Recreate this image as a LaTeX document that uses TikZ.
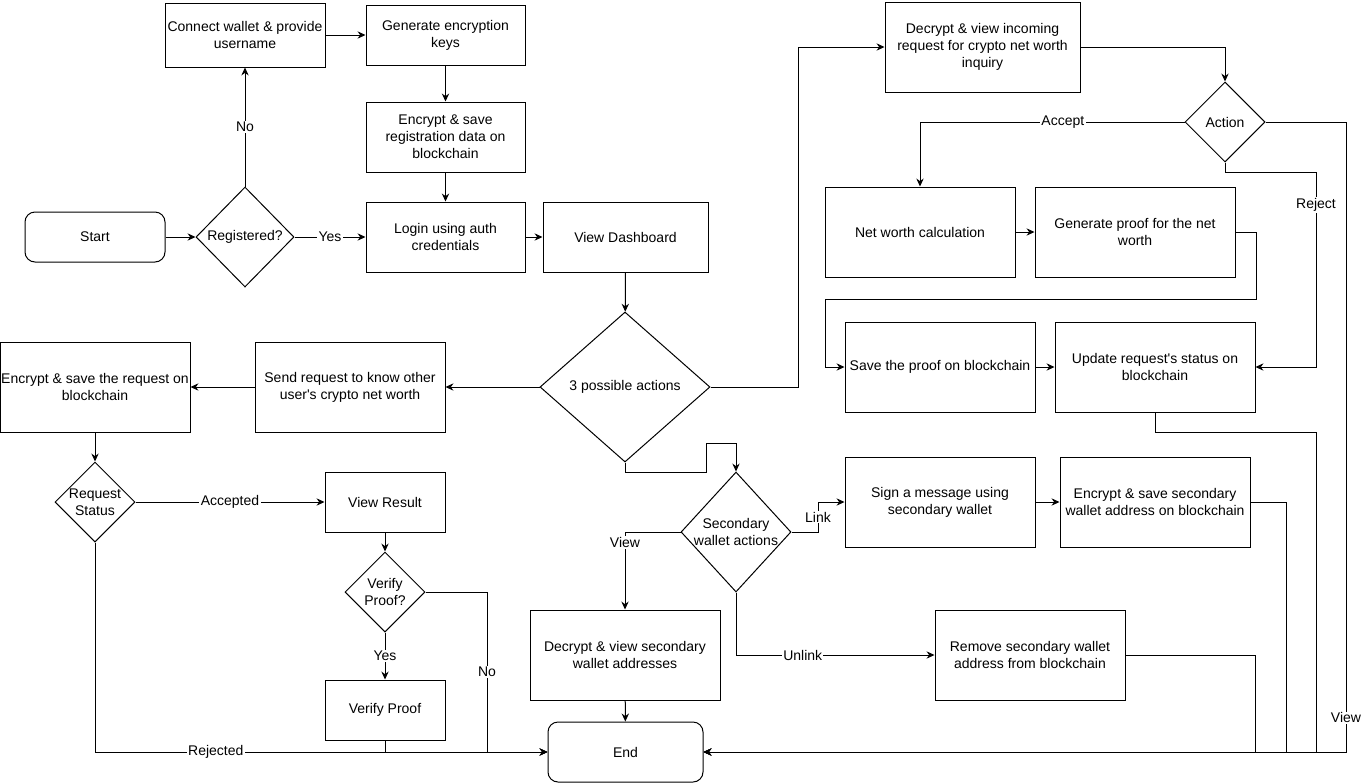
\documentclass[tikz,border=0pt]{standalone}
\usepackage{fontspec}
\setmainfont{Liberation Sans}
\usetikzlibrary{arrows.meta,shapes.geometric}
\begin{document}
\begin{tikzpicture}[x=0.75pt,y=-0.75pt,
  font=\fontsize{10.5pt}{12.75pt}\selectfont,
  every node/.style={inner sep=0pt},
  box/.style n args={2}{draw, line width=0.75pt, rectangle, minimum width=#1*0.75pt, minimum height=#2*0.75pt, align=center},
  term/.style n args={2}{box={#1}{#2}, rounded corners=7.5pt},
  dia/.style n args={2}{draw, line width=0.75pt, diamond, minimum width=#1*0.75pt, minimum height=#2*0.75pt},
  ctext/.style={align=center},
  elbl/.style={fill=white, inner sep=1pt},
  arr/.style={draw, line width=0.75pt, -{Stealth[length=6pt,width=5.5pt,inset=2pt]}}]
\useasboundingbox (0,0) rectangle (1361,783);

% nodes
\node[term={140}{50}] (start) at (95,237) {Start};
\node[dia={98}{100}, label={[ctext]center:Registered?}] (reg) at (245,237) {};
\node[box={160}{64}] (conn) at (245,35) {Connect wallet \& provide\\username};
\node[box={159}{60}] (gen) at (445.5,35) {Generate encryption\\keys};
\node[box={159}{70}] (encr) at (445.5,137) {Encrypt \& save\\registration data on\\blockchain};
\node[box={159}{70}] (login) at (445.5,237) {Login using auth\\credentials};
\node[box={165}{70}] (dash) at (625.5,237) {View Dashboard};
\node[dia={170}{150}, label={[ctext]center:3 possible actions}] (act3) at (625,387) {};
\node[box={190}{90}] (send) at (350,387) {Send request to know other\\user\textquotesingle s crypto net worth};
\node[box={190}{90}] (encq) at (95,387) {Encrypt \& save the request on\\blockchain};
\node[dia={80}{80}, label={[ctext]center:Request\\Status}] (rs) at (95,502) {};
\node[box={120}{60}] (vres) at (385,502) {View Result};
\node[dia={80}{80}, label={[ctext]center:Verify\\Proof?}] (vp) at (385,592) {};
\node[box={120}{60}] (vpf) at (385,710) {Verify Proof};
\node[term={155}{60}] (end) at (625.5,752) {End};
\node[box={190}{90}] (dsec) at (625,655) {Decrypt \& view secondary\\wallet addresses};
\node[dia={110}{120}, label={[ctext]center:Secondary\\wallet actions}] (sec) at (736,532) {};
\node[box={190}{90}] (sign) at (940,502) {Sign a message using\\secondary wallet};
\node[box={190}{90}] (encs) at (1155,502) {Encrypt \& save secondary\\wallet address on blockchain};
\node[box={190}{90}] (rem) at (1030,655) {Remove secondary wallet\\address from blockchain};
\node[box={190}{90}] (save) at (940,367) {Save the proof on blockchain};
\node[box={200}{90}] (upd) at (1155,367) {Update request\textquotesingle s status on\\blockchain};
\node[box={190}{90}] (nw) at (920,232) {Net worth calculation};
\node[box={200}{90}] (gp) at (1135,232) {Generate proof for the net\\worth};
\node[box={195}{90}] (inc) at (982.5,47) {Decrypt \& view incoming\\request for crypto net worth\\inquiry};
\node[dia={80}{80}, label={[ctext]center:Action}] (actn) at (1225,122) {};

% connectors
\draw[arr] (start) -- (reg);
\draw[arr] (reg) -- node[elbl]{No} (conn);
\draw[arr] (conn) -- (gen);
\draw[arr] (gen) -- (encr);
\draw[arr] (encr) -- (login);
\draw[arr] (reg) -- node[elbl]{Yes} (login);
\draw[arr] (login) -- (dash);
\draw[arr] (dash) -- (act3);
\draw[arr] (act3) -- (send);
\draw[arr] (send) -- (encq);
\draw[arr] (encq) -- (rs);
\draw[arr] (rs) -- node[elbl]{Accepted} (vres);
\draw[arr] (vres) -- (vp);
\draw[arr] (vp) -- node[elbl]{Yes} (vpf);
\draw[arr] (vp.east) -- (487,592) -- node[elbl]{No} (487,752) -- (end.west);
\draw[arr] (vpf.south) -- (385,752) -- (end.west);
\draw[arr] (rs.south) -- (95,752) -- node[elbl,pos=0.267]{Rejected} (end.west);

\draw[arr] (act3.east) -- (798,387) |- (inc.west);
\draw[arr] (act3.south) -- (625,472) -- (706,472) -- (706,443) -| (sec.north);
\draw[arr] (sec.west) -| node[elbl,pos=0.57]{View} (dsec.north);
\draw[arr] (sec.east) -- (818,532) -- node[elbl]{Link} (818,502) -- (sign.west);
\draw[arr] (sec.south) |- node[elbl,pos=0.668]{Unlink} (rem.west);
\draw[arr] (sign) -- (encs);
\draw[arr] (encs.east) -- (1286,502) |- (end.east);
\draw[arr] (rem.east) -- (1255,655) |- (end.east);
\draw[arr] (dsec) -- (end);
\draw[arr] (upd.south) -- (1155,432) -- (1316,432) |- (end.east);
\draw[arr] (actn.east) -- (1346,122) -- node[elbl,pos=0.946]{View} (1346,752) -- (end.east);
\draw[arr] (inc.east) -| (actn.north);
\draw[arr] (actn.west) -| node[elbl,pos=0.23]{Accept} (nw.north);
\draw[arr] (actn.south) -- (1225,172) -- (1316,172) -- node[elbl,pos=0.17]{Reject} (1316,367) -- (upd.east);
\draw[arr] (nw) -- (gp);
\draw[arr] (gp.east) -- (1256,232) -- (1256,299) -- (825,299) |- (save.west);
\draw[arr] (save) -- (upd);
\end{tikzpicture}
\end{document}
